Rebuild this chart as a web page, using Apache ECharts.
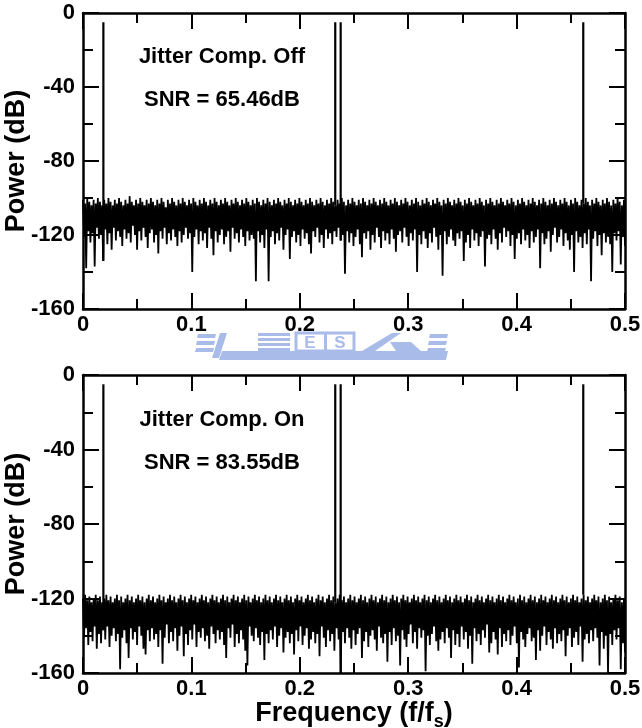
<!DOCTYPE html>
<html>
<head>
<meta charset="utf-8">
<title>Jitter compensation spectrum</title>
<script src="https://cdn.jsdelivr.net/npm/echarts@6/dist/echarts.min.js"></script>
<style>
html,body{margin:0;padding:0;background:#fff;}
#main{width:642px;height:728px;}
</style>
</head>
<body>
<div id="main"></div>
<script>
// axis ranges / tick labels
var xTicks = [0, 0.1, 0.2, 0.3, 0.4, 0.5];
var yTicks = [-160, -120, -80, -40, 0];

// input tones (f/fs) and their power, same in both panels
var toneFreqs = [0.0188, 0.2327, 0.2377, 0.4615];
var tonePowerOff = [-5, -5, -5, -5];
var tonePowerOn = [-5, -5, -5, -5];

var panelTitles = ['Jitter Comp. Off', 'Jitter Comp. On'];
var snrLabels = ['SNR = 65.46dB', 'SNR = 83.55dB'];

// noise floor (evenly spaced bins from 0 to 0.5)
var noiseOff = [
-101,-121,-103,-138,-100,-118,-102,-124,-104,-119,-101,-137,-103,-116,-100,-122,
-102,-120,-104,-134,-101,-117,-103,-125,-100,-119,-102,-128,-104,-116,-101,-123,
-103,-118,-100,-121,-102,-126,-104,-117,-101,-122,-103,-119,-99,-124,-102,-115,
-104,-120,-101,-128,-103,-118,-100,-123,-102,-116,-104,-121,-101,-127,-103,-119,
-100,-117,-102,-124,-104,-120,-101,-130,-103,-118,-100,-122,-102,-116,-105,-125,
-101,-119,-103,-123,-100,-117,-102,-121,-104,-126,-101,-118,-103,-124,-100,-120,
-102,-116,-104,-122,-101,-119,-103,-140,-100,-121,-102,-117,-104,-125,-101,-118,
-103,-123,-100,-119,-102,-127,-104,-116,-101,-122,-103,-131,-100,-118,-102,-124,
-104,-120,-101,-117,-103,-125,-100,-121,-102,-118,-104,-129,-101,-116,-103,-122,
-100,-119,-102,-124,-104,-117,-101,-121,-103,-126,-100,-118,-102,-123,-104,-120,
-101,-122,-103,-145,-100,-118,-102,-124,-104,-120,-101,-127,-103,-117,-100,-145,
-102,-121,-104,-118,-101,-125,-103,-119,-100,-123,-102,-116,-104,-128,-101,-120,
-103,-117,-100,-133,-102,-121,-104,-118,-101,-124,-103,-120,-100,-126,-102,-117,
-104,-122,-101,-119,-103,-125,-100,-130,-102,-118,-104,-121,-101,-116,-103,-124,
-100,-120,-102,-127,-104,-117,-101,-122,-103,-119,-100,-125,-102,-118,-104,-121,
-101,-116,-103,-123,-100,-120,-102,-141,-104,-118,-101,-124,-103,-119,-100,-126,
-102,-121,-104,-117,-101,-125,-103,-132,-100,-119,-102,-122,-104,-118,-101,-128,
-103,-120,-100,-124,-102,-116,-104,-121,-101,-127,-103,-118,-100,-123,-102,-119,
-104,-125,-101,-117,-103,-122,-100,-129,-102,-120,-104,-118,-101,-124,-103,-116,
-100,-121,-102,-126,-104,-119,-101,-123,-103,-117,-100,-140,-102,-120,-104,-125,
-101,-118,-103,-122,-100,-127,-102,-119,-104,-124,-101,-116,-103,-121,-100,-128,
-102,-120,-104,-142,-101,-118,-103,-125,-100,-121,-102,-117,-104,-123,-101,-126,
-103,-119,-100,-122,-102,-118,-104,-134,-101,-124,-103,-120,-100,-127,-102,-117,
-104,-123,-101,-119,-103,-126,-100,-121,-102,-118,-104,-137,-101,-122,-103,-120,
-100,-125,-102,-117,-104,-122,-101,-128,-103,-119,-100,-124,-102,-116,-104,-121,
-101,-118,-103,-126,-100,-120,-102,-133,-104,-122,-101,-119,-103,-125,-100,-117,
-102,-123,-104,-120,-101,-127,-103,-118,-100,-124,-102,-121,-104,-117,-101,-138,
-103,-119,-100,-125,-102,-122,-104,-118,-101,-129,-103,-120,-100,-116,-102,-124,
-104,-121,-101,-117,-103,-126,-100,-119,-102,-123,-104,-128,-101,-120,-103,-140,
-100,-118,-102,-124,-104,-121,-101,-127,-103,-119,-100,-125,-102,-117,-104,-145,
-101,-122,-103,-118,-100,-126,-102,-120,-104,-131,-101,-119,-103,-124,-100,-121,
-102,-125,-104,-140,-101,-119,-103,-123,-100,-118,-102,-136,-104,-121,-101,-126
];
var noiseOn = [
-120,-141,-118,-136,-121,-145,-119,-138,-122,-143,-120,-135,-118,-147,-121,-139,
-119,-144,-122,-137,-120,-142,-118,-135,-121,-146,-119,-140,-122,-136,-120,-143,
-118,-139,-121,-158,-119,-141,-122,-137,-120,-144,-118,-152,-121,-136,-119,-142,
-122,-138,-120,-145,-118,-135,-121,-140,-119,-147,-122,-150,-120,-137,-118,-143,
-121,-136,-119,-142,-122,-139,-120,-146,-118,-137,-121,-155,-119,-141,-122,-134,
-120,-144,-118,-138,-121,-143,-119,-136,-122,-148,-120,-140,-118,-135,-121,-151,
-119,-139,-122,-145,-120,-137,-118,-142,-121,-134,-119,-146,-122,-138,-120,-141,
-118,-136,-121,-143,-119,-140,-122,-147,-120,-135,-118,-139,-121,-144,-119,-137,
-122,-142,-120,-138,-118,-145,-121,-152,-119,-136,-122,-141,-120,-134,-118,-146,
-121,-139,-119,-144,-122,-137,-120,-142,-118,-148,-121,-156,-119,-135,-122,-140,
-120,-143,-118,-136,-121,-141,-119,-145,-122,-138,-120,-153,-118,-139,-121,-144,
-119,-137,-122,-142,-120,-135,-118,-146,-121,-140,-119,-136,-122,-149,-120,-141,
-118,-138,-121,-144,-119,-139,-122,-150,-120,-137,-118,-143,-121,-135,-119,-145,
-122,-140,-120,-136,-118,-147,-121,-142,-119,-138,-122,-144,-120,-139,-118,-151,
-121,-135,-119,-141,-122,-146,-120,-137,-118,-143,-121,-139,-119,-148,-122,-136,
-120,-142,-118,-160,-121,-138,-119,-144,-122,-136,-120,-141,-118,-147,-121,-137,
-119,-145,-122,-139,-120,-136,-118,-152,-121,-143,-119,-138,-122,-146,-120,-140,
-118,-137,-121,-142,-119,-148,-122,-135,-120,-141,-118,-144,-121,-139,-119,-154,
-122,-138,-120,-145,-118,-136,-121,-143,-119,-140,-122,-156,-120,-137,-118,-142,
-121,-146,-119,-139,-122,-134,-120,-144,-118,-138,-121,-147,-119,-136,-122,-141,
-120,-137,-118,-159,-121,-140,-119,-145,-122,-139,-120,-135,-118,-143,-121,-148,
-119,-142,-122,-138,-120,-144,-118,-136,-121,-141,-119,-152,-122,-137,-120,-145,
-118,-139,-121,-146,-119,-135,-122,-142,-120,-138,-118,-147,-121,-140,-119,-155,
-122,-136,-120,-143,-118,-139,-121,-145,-119,-137,-122,-141,-120,-134,-118,-149,
-121,-144,-119,-138,-122,-142,-120,-150,-118,-136,-121,-146,-119,-139,-122,-143,
-120,-137,-118,-145,-121,-140,-119,-135,-122,-144,-120,-157,-118,-138,-121,-142,
-119,-146,-122,-139,-120,-136,-118,-143,-121,-141,-119,-153,-122,-137,-120,-148,
-118,-140,-121,-135,-119,-145,-122,-138,-120,-142,-118,-147,-121,-136,-119,-144,
-122,-139,-120,-143,-118,-137,-121,-151,-119,-140,-122,-136,-120,-146,-118,-141,
-121,-138,-119,-145,-122,-135,-120,-154,-118,-142,-121,-139,-119,-144,-122,-137,
-120,-143,-118,-136,-121,-141,-119,-156,-122,-138,-120,-147,-118,-140,-121,-160,
-119,-139,-122,-145,-120,-137,-118,-142,-121,-136,-119,-158,-122,-144,-120,-149
];

var font = 'Liberation Sans, Arial, Helvetica, sans-serif';
var grids = [
	{left: 83, top: 13, width: 542, height: 296, outerBoundsMode: 'none', containLabel: false},
	{left: 83, top: 375, width: 542, height: 298, outerBoundsMode: 'none', containLabel: false}
];

function binsToXY(vals){
	var out = [];
	for (var i = 0; i < vals.length; i++) {
		out.push([xTicks[xTicks.length - 1] * i / (vals.length - 1), vals[i]]);
	}
	return out;
}

function xAxisFor(gi, pos, showLabel, name){
	return {
		type: 'value', gridIndex: gi, position: pos,
		min: xTicks[0], max: xTicks[xTicks.length - 1], interval: xTicks[1] - xTicks[0],
		axisLine: {show: true, onZero: false, lineStyle: {color: '#000', width: 2.5}},
		axisTick: {show: true, inside: true, length: 16, lineStyle: {color: '#000', width: 2}},
		minorTick: {show: true, splitNumber: 2, length: 10, lineStyle: {color: '#000', width: 2}},
		splitLine: {show: false}, minorSplitLine: {show: false},
		axisLabel: {show: showLabel, color: '#000', fontFamily: font, fontWeight: 'bold', fontSize: 22, margin: 5,
			formatter: function(v){ return v === 0 ? '0' : v.toFixed(1); }},
		name: name || '', nameLocation: 'middle', nameGap: 24, nameMoveOverlap: false,
		nameTextStyle: {
			color: '#000',
			rich: {
				a: {fontFamily: font, fontWeight: 'bold', fontSize: 27, color: '#000'},
				s: {fontFamily: font, fontWeight: 'bold', fontSize: 18, color: '#000', padding: [16, 0, 0, 0]}
			}
		}
	};
}

function yAxisFor(gi, pos, showLabel){
	return {
		type: 'value', gridIndex: gi, position: pos,
		min: yTicks[0], max: yTicks[yTicks.length - 1], interval: yTicks[1] - yTicks[0],
		axisLine: {show: true, onZero: false, lineStyle: {color: '#000', width: 2.5}},
		axisTick: {show: true, inside: true, length: 16, lineStyle: {color: '#000', width: 2}},
		minorTick: {show: true, splitNumber: 2, length: 10, lineStyle: {color: '#000', width: 2}},
		splitLine: {show: false}, minorSplitLine: {show: false},
		axisLabel: {show: showLabel, color: '#000', fontFamily: font, fontWeight: 'bold', fontSize: 22, margin: 8},
		name: showLabel ? 'Power (dB)' : '', nameLocation: 'middle', nameRotate: 90, nameGap: 53, nameMoveOverlap: false,
		nameTextStyle: {color: '#000', fontFamily: font, fontWeight: 'bold', fontSize: 27}
	};
}

var series = [];
[noiseOff, noiseOn].forEach(function(noise, gi){
	series.push({
		type: 'line', xAxisIndex: gi * 2, yAxisIndex: gi * 2,
		data: binsToXY(noise), symbol: 'none', sampling: null,
		lineStyle: {color: '#000', width: 1.8}, silent: true
	});
	var pw = gi === 0 ? tonePowerOff : tonePowerOn;
	for (var k = 0; k < toneFreqs.length; k++) {
		series.push({
			type: 'line', xAxisIndex: gi * 2, yAxisIndex: gi * 2,
			data: [[toneFreqs[k], noise[Math.round(toneFreqs[k] / 0.5 * (noise.length - 1))]], [toneFreqs[k], pw[k]]],
			symbol: 'none', lineStyle: {color: '#000', width: 2.2}, silent: true
		});
	}
});

var graphics = [];
var textY = [[57, 100], [420, 463]];
for (var g = 0; g < 2; g++) {
	graphics.push({type: 'text', x: 222, y: textY[g][0],
		style: {text: panelTitles[g], fill: '#000', font: 'bold 22px ' + font, align: 'center', verticalAlign: 'middle', textAlign: 'center', textVerticalAlign: 'middle'}});
	graphics.push({type: 'text', x: 222, y: textY[g][1],
		style: {text: snrLabels[g], fill: '#000', font: 'bold 22px ' + font, align: 'center', verticalAlign: 'middle', textAlign: 'center', textVerticalAlign: 'middle'}});
}

// faint watermark between the two panels
var wm = '#a9bce9';
var wmShapes = [
	[[198,334],[216,334],[215,338],[197,338]],
	[[197,341],[215,341],[214,345],[196,345]],
	[[196,348],[214,348],[213,352],[195,352]],
	[[220,333],[227,333],[219,358],[212,358]],
	[[222,351],[448,351],[446,360],[219,360]],
	[[362,351],[392,333],[401,333],[375,351]],
	[[390,342],[411,342],[421,351],[396,351]],
	[[430,334],[448,334],[447,338],[429,338]],
	[[429,341],[447,341],[446,345],[428,345]],
	[[428,348],[446,348],[445,351],[427,351]]
];
wmShapes.forEach(function(p){
	graphics.push({type: 'polygon', shape: {points: p}, style: {fill: wm}, z: -1});
});
for (var b = 0; b < 4; b++) {
	graphics.push({type: 'rect', shape: {x: 258, y: 333 + b * 5, width: 32, height: 3}, style: {fill: wm}, z: -1});
}
graphics.push({type: 'rect', shape: {x: 296, y: 333, width: 58, height: 18}, style: {fill: 'none', stroke: wm, lineWidth: 3}, z: -1});
graphics.push({type: 'rect', shape: {x: 324, y: 333, width: 3, height: 18}, style: {fill: wm}, z: -1});
graphics.push({type: 'text', x: 310, y: 343, style: {text: 'E', fill: wm, font: 'bold 17px ' + font, align: 'center', verticalAlign: 'middle', textAlign: 'center', textVerticalAlign: 'middle'}, z: -1});
graphics.push({type: 'text', x: 340, y: 343, style: {text: 'S', fill: wm, font: 'bold 17px ' + font, align: 'center', verticalAlign: 'middle', textAlign: 'center', textVerticalAlign: 'middle'}, z: -1});

var myChart = echarts.init(document.getElementById('main'));
myChart.setOption({
	animation: false,
	backgroundColor: '#fff',
	grid: grids,
	xAxis: [
		xAxisFor(0, 'bottom', true),
		xAxisFor(0, 'top', false),
		xAxisFor(1, 'bottom', true, '{a|Frequency (f/f}{s|s}{a|)}'),
		xAxisFor(1, 'top', false)
	],
	yAxis: [
		yAxisFor(0, 'left', true),
		yAxisFor(0, 'right', false),
		yAxisFor(1, 'left', true),
		yAxisFor(1, 'right', false)
	],
	series: series,
	graphic: graphics
});
</script>
</body>
</html>
